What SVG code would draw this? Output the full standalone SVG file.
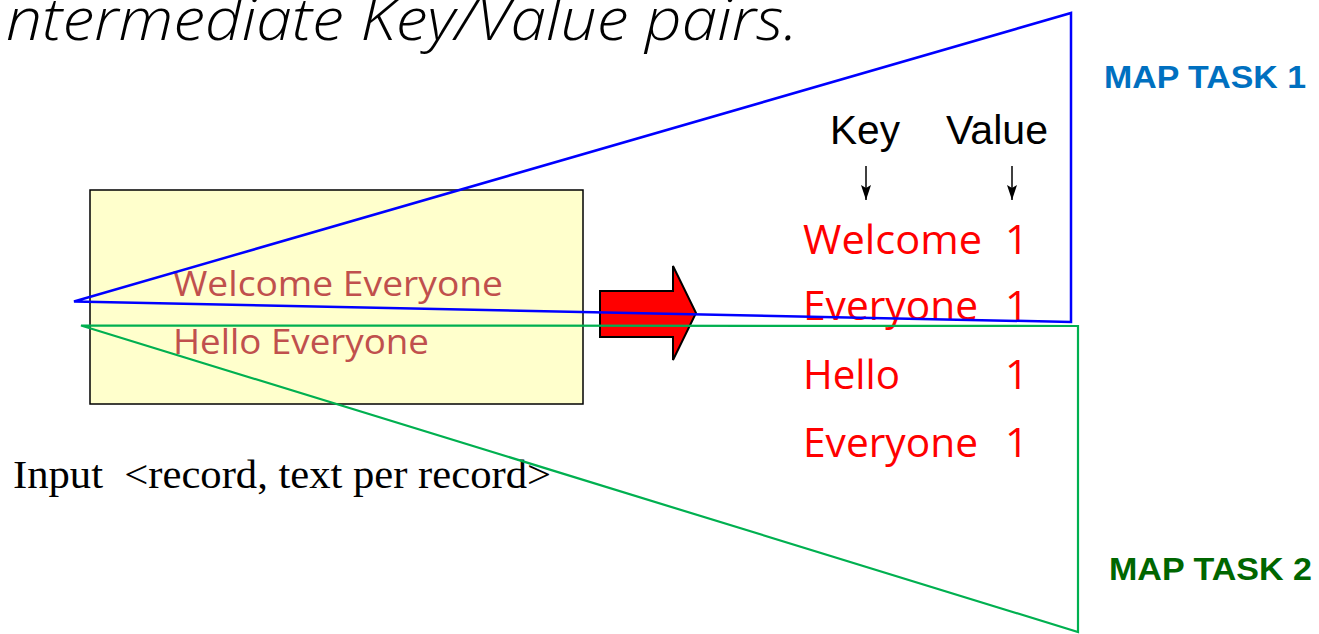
<svg xmlns="http://www.w3.org/2000/svg" width="1319" height="634" viewBox="0 0 1319 634">
<style>
.title{font-family:"Open Sans","DejaVu Sans",sans-serif;font-style:italic;font-weight:300;font-size:58px;fill:#000}
.inbox{font-family:"Open Sans","Noto Sans",sans-serif;font-size:34px;fill:#C0504D}
.kv{font-family:"Open Sans","Noto Sans",sans-serif;font-size:41px;fill:#FF0000}
.hdr{font-family:"Liberation Sans",Arial,sans-serif;font-size:40px;fill:#000}
.task{font-family:"Liberation Sans",Arial,sans-serif;font-weight:bold;font-size:32px}
.input{font-family:"Liberation Serif","Times New Roman",serif;font-size:41px;fill:#000;white-space:pre}
.conn{fill:none;stroke-linejoin:miter}
</style>
<defs>
<marker id="ah" viewBox="0 0 15 10" refX="15" refY="5" markerWidth="15" markerHeight="10" orient="auto" markerUnits="userSpaceOnUse">
<path d="M0,0 L15,5 L0,10 L3,5 Z" fill="#000"/>
</marker>
</defs>
<rect width="1319" height="634" fill="#fff"/>
<g id="title"><text class="title" x="6" y="40" textLength="792" lengthAdjust="spacingAndGlyphs">ntermediate Key/Value pairs.</text></g>
<g id="input-box">
<rect x="90" y="190" width="493" height="214" fill="#FFFFCC" stroke="#000" stroke-width="1.5"/>
<text class="inbox" x="173" y="296" textLength="330" lengthAdjust="spacingAndGlyphs">Welcome Everyone</text>
<text class="inbox" x="173" y="354" textLength="256" lengthAdjust="spacingAndGlyphs">Hello Everyone</text>
</g>
<g id="input-label"><text class="input" x="13" y="488" textLength="538" lengthAdjust="spacingAndGlyphs" xml:space="preserve">Input  &lt;record, text per record&gt;</text></g>
<g id="big-arrow"><path d="M600,291 L673,291 L673,266 L696,313 L673,360 L673,337 L600,337 Z" fill="#FF0000" stroke="#000" stroke-width="2"/></g>
<g id="headers">
<text class="hdr" x="830" y="144" textLength="70" lengthAdjust="spacingAndGlyphs">Key</text>
<text class="hdr" x="946" y="144" textLength="102" lengthAdjust="spacingAndGlyphs">Value</text>
</g>
<g id="output">
<text class="kv" x="803" y="254" textLength="179" lengthAdjust="spacingAndGlyphs">Welcome</text>
<text class="kv" x="1005" y="254">1</text>
<text class="kv" x="803" y="320" textLength="175" lengthAdjust="spacingAndGlyphs">Everyone</text>
<text class="kv" x="1005" y="320">1</text>
<text class="kv" x="803" y="389" textLength="97" lengthAdjust="spacingAndGlyphs">Hello</text>
<text class="kv" x="1005" y="389">1</text>
<text class="kv" x="803" y="457" textLength="175" lengthAdjust="spacingAndGlyphs">Everyone</text>
<text class="kv" x="1005" y="457">1</text>
</g>
<g id="map-task-1"><text class="task" x="1104" y="88" fill="#0070C0" textLength="202" lengthAdjust="spacingAndGlyphs">MAP TASK 1</text></g>
<g id="map-task-2"><text class="task" x="1109" y="580" fill="#006600" textLength="203" lengthAdjust="spacingAndGlyphs">MAP TASK 2</text></g>
<g id="connectors">
<line x1="866" y1="166" x2="866" y2="200" stroke="#000" stroke-width="1.5" marker-end="url(#ah)"/>
<line x1="1012" y1="166" x2="1012" y2="200" stroke="#000" stroke-width="1.5" marker-end="url(#ah)"/>
<path class="conn" d="M74,301.5 L1071,13 L1071,322 Z" stroke="#0000FF" stroke-width="2.5"/>
<path class="conn" d="M81,325.5 L1078,326 L1078,632 Z" stroke="#00B050" stroke-width="2.2"/>
</g>
</svg>
